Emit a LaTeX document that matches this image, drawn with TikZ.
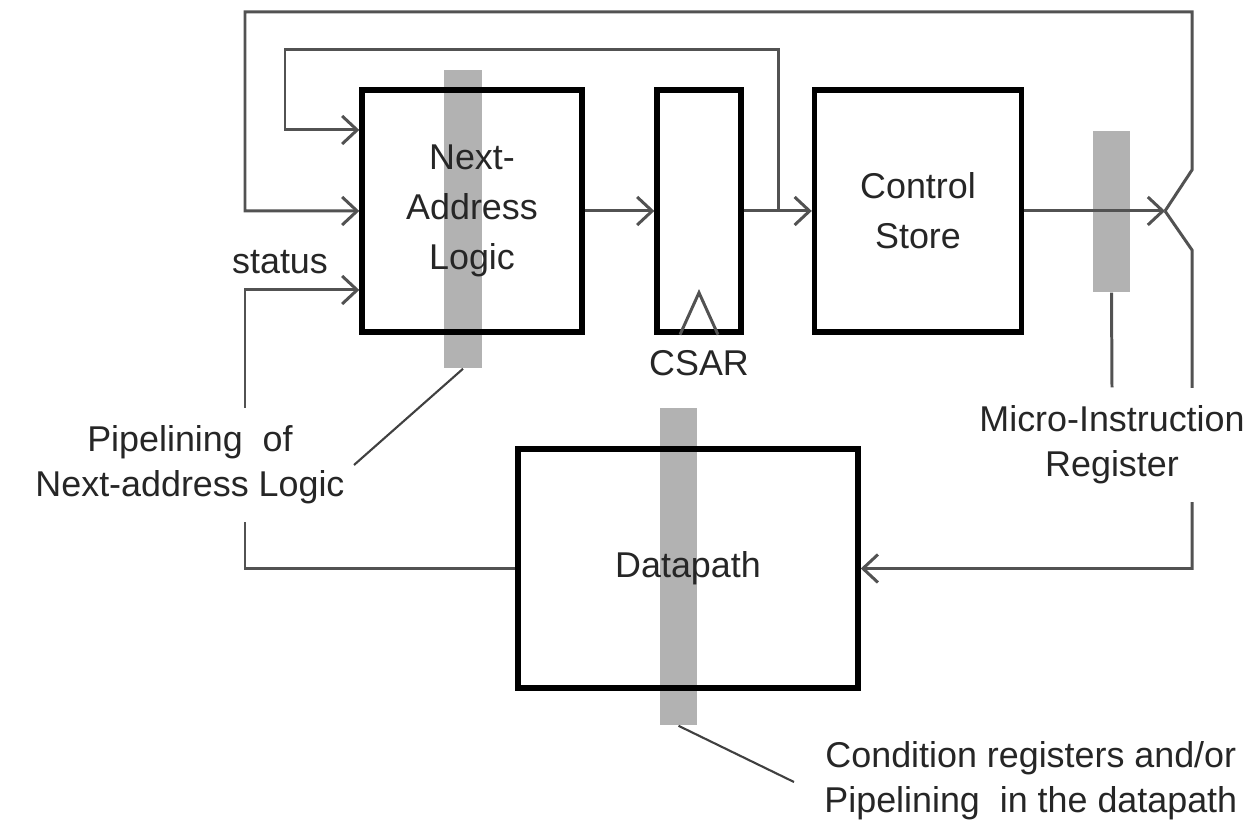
\documentclass[tikz,border=0pt]{standalone}
\usepackage{fontspec}
\setmainfont{Liberation Sans}
\usetikzlibrary{arrows.meta,positioning}
\pgfdeclarelayer{background}
\pgfdeclarelayer{foreground}
\pgfsetlayers{background,main,foreground}
\tikzstyle{block}=[draw=black, line width=1.5pt, align=center, inner sep=0pt,
    font=\fontsize{10.2}{14.2}\selectfont, text=black!85]
\tikzstyle{stage}=[fill=black!30, draw=none, inner sep=0pt, minimum width=0.37cm]
\tikzstyle{wire}=[draw=black!68, line width=0.85pt]
\tikzstyle{flow}=[wire, -{Straight Barb[length=1.5mm,width=2.8mm]}]
\tikzstyle{note}=[align=center, font=\fontsize{10.2}{12.8}\selectfont, text=black!85]
\tikzstyle{callout}=[note, fill=white, inner xsep=2pt, inner ysep=5pt]
\tikzstyle{pointer}=[draw=black!75, line width=0.6pt]

\begin{document}
\begin{tikzpicture}[x=0.01cm, y=-0.01cm]
	\useasboundingbox (0,0) rectangle (1251,822);
	% Pipeline stages behind the blocks
	\begin{pgfonlayer}{background}
	\node (nalbar) [stage, minimum height=2.98cm] at (463,219) {};
	\node (mirbar) [stage, minimum height=1.61cm] at (1111.5,211.5) {};
	\node (dpbar) [stage, minimum height=3.17cm] at (678.5,566.5) {};
	\end{pgfonlayer}

	% Define the blocks
	\node (nal) [block, minimum width=2.2cm, minimum height=2.42cm] at (472,211) {Next-\\Address\\Logic};
	\node (csar) [block, minimum width=0.84cm, minimum height=2.42cm] at (699,211) {};
	\node (cs) [block, minimum width=2.07cm, minimum height=2.42cm] at (918,211) {Control\\Store};
	\node (dp) [block, minimum width=3.4cm, minimum height=2.39cm] at (688,568.5) {Datapath};
	\node (csarlbl) [note, below=0.03cm of csar] {CSAR};
	\node (status) [note] at (280,262) {status};
	\node (condlbl) [note, anchor=west] at (812,781) {Condition registers and/or\\Pipelining~ in the datapath};

	% Labels that cut the wires
	\begin{pgfonlayer}{foreground}
	\node (mirlbl) [callout] at (1112,445) {Micro-Instruction\\Register};
	\node (pipelbl) [callout] at (190,465) {Pipelining~ of\\Next-address Logic};
	\end{pgfonlayer}

	% Corner points of the wires
	\coordinate (fork) at (1165,211);
	\coordinate (forkup) at (1192,170);
	\coordinate (forkdn) at (1192,250);
	\coordinate (topl) at (245,12);
	\coordinate (topr) at (1192,12);
	\coordinate (innl) at (285,50);
	\coordinate (innr) at (778,50);
	\coordinate (loopin) at (285,130);
	\coordinate (statin) at (245,290);
	\coordinate (ptrnal) at (354,465);
	\coordinate (ptrdp) at (794,782);

	% Clock triangle of CSAR
	\draw [wire] ([xshift=-0.19cm]csar.south) -- ([yshift=0.42cm]csar.south) -- ([xshift=0.19cm]csar.south);

	% Define the edges
	\draw [flow] (nal.east) -- (csar.west);
	\draw [flow] (csar.east) -- (cs.west);
	\draw [flow] (cs.east) -- (fork);
	\draw [flow] (innr |- csar.east) -- (innr) -- (innl) -- (loopin) -- (loopin -| nal.west);
	\draw [flow] (fork) -- (forkup) -- (topr) -- (topl) |- (nal.west);
	\draw [flow] (fork) -- (forkdn) |- (dp.east);
	\draw [flow] (dp.west) -| (statin) -- (statin -| nal.west);
	\draw [wire] (mirbar.south) -- (mirlbl.north);
	\draw [pointer] (nalbar.south) -- (ptrnal);
	\draw [pointer] (dpbar.south) -- (ptrdp);
\end{tikzpicture}
\end{document}
